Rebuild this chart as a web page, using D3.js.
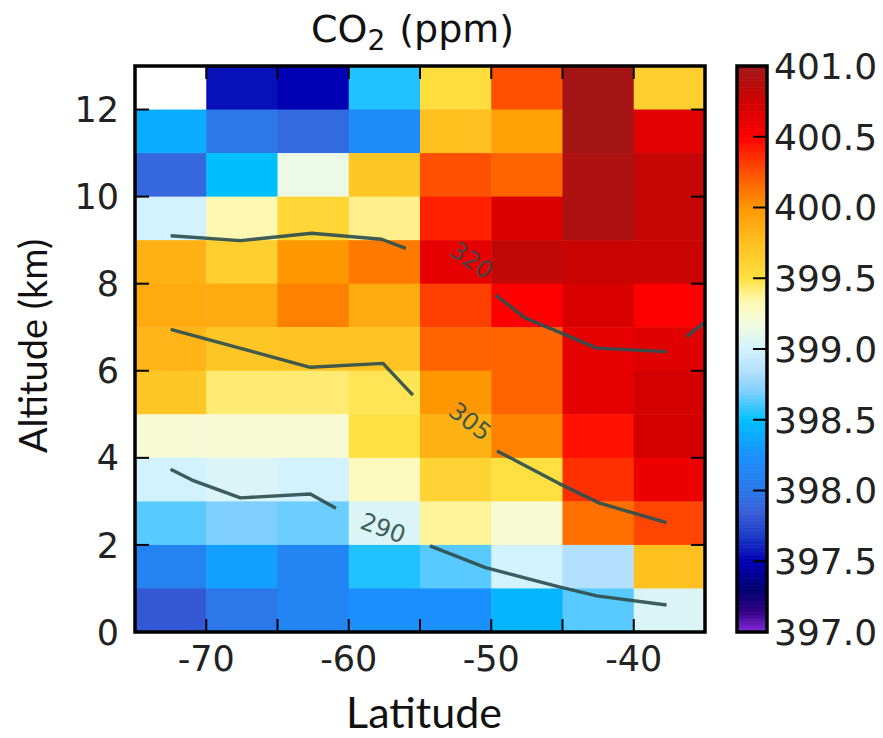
<!DOCTYPE html>
<html><head><meta charset="utf-8">
<script src="https://cdn.jsdelivr.net/npm/d3@7"></script>
<style>body{margin:0;background:#fff}svg{display:block}</style>
</head><body>
<svg id="c" width="883" height="738"></svg>
<script>
// ---------- data ----------
const latEdges = [-75, -70, -65, -60, -55, -50, -45, -40, -35];
const altEdges = [0,1,2,3,4,5,6,7,8,9,10,11,12,13];
// CO2 (ppm), rows from 12-13 km (top) down to 0-1 km, columns from -75 to -35
const co2Rows = [
  [null,   397.55, 397.5,  398.55, 399.52, 400.25, 400.97, 399.63],
  [398.4,  398.0,  397.92, 398.2,  399.75, 399.95, 400.97, 400.65],
  [397.9,  398.5,  399.15, 399.7,  400.25, 400.18, 400.93, 400.8 ],
  [399.0,  399.34, 399.58, 399.4,  400.4,  400.7,  400.93, 400.8 ],
  [399.85, 399.63, 400.0,  400.1,  400.63, 400.83, 400.78, 400.78],
  [399.89, 399.89, 400.08, 399.89, 400.3,  400.5,  400.7,  400.5 ],
  [399.82, 399.7,  399.73, 399.73, 400.18, 400.18, 400.63, 400.67],
  [399.7,  399.43, 399.43, 399.47, 400.0,  400.18, 400.63, 400.73],
  [399.22, 399.22, 399.23, 399.5,  399.84, 400.08, 400.45, 400.73],
  [399.0,  399.05, 399.0,  399.3,  399.6,  399.5,  400.35, 400.6 ],
  [398.64, 398.7,  398.67, 399.05, 399.38, 399.22, 400.14, 400.28],
  [398.1,  398.33, 398.13, 398.55, 398.64, 399.0,  398.85, 399.75],
  [397.82, 398.0,  398.13, 398.25, 398.25, 398.45, 398.64, 399.05]
];
const xTicks = [-70, -60, -50, -40];
const yTicks = [0, 2, 4, 6, 8, 10, 12];
const cbTicks = [397.0, 397.5, 398.0, 398.5, 399.0, 399.5, 400.0, 400.5, 401.0];
// colormap stops (value -> colour)
const cmapVals = [397.0, 397.15, 397.3, 397.5, 397.7, 397.85, 398.0, 398.25, 398.5, 398.7, 398.85, 399.0, 399.2, 399.35, 399.5, 399.75, 400.0, 400.25, 400.5, 400.75, 401.0];
const cmapCols = ["#8a2be2","#300080","#000070","#0000b4","#2040c8","#3a5ed8","#2c78e8","#1a90ff","#00bfff","#7fcfff","#b4e0ff","#d2f2ff","#f5fcdc","#fff8b0","#ffe040","#ffc020","#ff9800","#ff5000","#ff0000","#d00000","#a01818"];
// potential temperature contours (K): segments of [lat, alt]
const contours = [
  {level: 320, segs: [
    [[-72.5,9.10],[-67.6,8.99],[-62.6,9.16],[-57.7,9.02],[-56.0,8.81]],
    [[-49.7,7.74],[-47.6,7.21],[-45.4,6.91],[-42.6,6.52],[-37.7,6.44]],
    [[-36.3,6.78],[-35.0,7.12]]
  ], label: [-51.4, 8.53, 35]},
  {level: 305, segs: [
    [[-72.5,6.95],[-62.7,6.08],[-57.6,6.17],[-55.5,5.44]],
    [[-49.6,4.16],[-45.3,3.42],[-42.4,2.96],[-37.7,2.51]]
  ], label: [-51.5, 4.83, 38]},
  {level: 290, segs: [
    [[-72.5,3.74],[-71.0,3.49],[-67.6,3.08],[-62.7,3.17],[-60.9,2.84]],
    [[-54.3,1.98],[-50.4,1.48],[-45.3,1.04],[-42.6,0.83],[-37.7,0.62]]
  ], label: [-57.6, 2.38, 20]}
];

// ---------- layout ----------
const svg = d3.select("#c");
const L = 135, R = 705, T = 66, B = 632;
const x = d3.scaleLinear().domain([-75, -35]).range([L, R]);
const y = d3.scaleLinear().domain([0, 13]).range([B, T]);
const color = d3.scaleLinear().domain(cmapVals).range(cmapCols).interpolate(d3.interpolateRgb).clamp(true);
const tickFont = "DejaVu Sans, sans-serif";
const labFont = "Lato, 'Open Sans', sans-serif";

// cells
const cells = [];
co2Rows.forEach((row, ri) => {
  const a0 = altEdges[altEdges.length - 2 - ri], a1 = altEdges[altEdges.length - 1 - ri];
  row.forEach((v, ci) => cells.push({l0: latEdges[ci], l1: latEdges[ci+1], a0, a1, v}));
});
svg.append("g").selectAll("rect").data(cells).join("rect")
  .attr("x", d => x(d.l0)).attr("y", d => y(d.a1))
  .attr("width", d => x(d.l1) - x(d.l0) + 0.5).attr("height", d => y(d.a0) - y(d.a1) + 0.5)
  .attr("fill", d => d.v == null ? "#ffffff" : color(d.v));

// contours
const line = d3.line().x(d => x(d[0])).y(d => y(d[1]));
const cg = svg.append("g");
contours.forEach(c => {
  c.segs.forEach(s => cg.append("path").attr("d", line(s)).attr("fill", "none")
    .attr("stroke", "#2f4f4f").attr("stroke-width", 3.4).attr("stroke-linejoin", "round").attr("opacity", 0.92));
  cg.append("text").attr("transform", `translate(${x(c.label[0])},${y(c.label[1])}) rotate(${c.label[2]})`)
    .attr("text-anchor", "middle").attr("dominant-baseline", "central")
    .attr("font-family", tickFont).attr("font-size", 24).attr("fill", "#2f4f4f").attr("opacity", 0.9)
    .text(c.level);
});

// axes ticks (inside)
const tk = svg.append("g").attr("stroke", "#000").attr("stroke-width", 2);
d3.range(-70, -35, 5).forEach(v => {
  tk.append("line").attr("x1", x(v)).attr("x2", x(v)).attr("y1", B).attr("y2", B - 13);
  tk.append("line").attr("x1", x(v)).attr("x2", x(v)).attr("y1", T).attr("y2", T + 13);
});
yTicks.filter(v => v > 0).forEach(v => {
  tk.append("line").attr("x1", L).attr("x2", L + 14).attr("y1", y(v)).attr("y2", y(v));
  tk.append("line").attr("x1", R).attr("x2", R - 14).attr("y1", y(v)).attr("y2", y(v));
});
svg.append("rect").attr("x", L).attr("y", T).attr("width", R - L).attr("height", B - T)
  .attr("fill", "none").attr("stroke", "#000").attr("stroke-width", 3.5);

// tick labels
svg.append("g").selectAll("text").data(xTicks).join("text")
  .attr("x", d => x(d)).attr("y", 671).attr("text-anchor", "middle")
  .attr("font-family", tickFont).attr("font-size", 35).attr("fill", "#222").text(d => d);
svg.append("g").selectAll("text").data(yTicks).join("text")
  .attr("x", 119).attr("y", d => y(d)).attr("dy", "0.36em").attr("text-anchor", "end")
  .attr("font-family", tickFont).attr("font-size", 35).attr("fill", "#222").text(d => d);

// axis titles
svg.append("text").attr("x", x(-55) + 4).attr("y", 728).attr("text-anchor", "middle")
  .attr("font-family", labFont).attr("font-size", 43).attr("fill", "#111").text("Latitude");
svg.append("text").attr("transform", `translate(47,${(T + B) / 2 - 3}) rotate(-90)`).attr("text-anchor", "middle")
  .attr("font-family", labFont).attr("font-size", 38).attr("fill", "#111").text("Altitude (km)");
const title = svg.append("text").attr("x", 311).attr("y", 42)
  .attr("font-family", tickFont).attr("font-size", 38).attr("fill", "#111");
title.append("tspan").text("CO");
title.append("tspan").attr("font-size", 28).attr("dy", 8).text("2");
title.append("tspan").attr("dy", -8).attr("dx", 14).text("(ppm)");

// colour bar
const cbL = 737, cbW = 30;
const cy = d3.scaleLinear().domain([397, 401]).range([B, T]);
const steps = d3.range(0, 400).map(i => 397 + i * 0.01);
svg.append("g").selectAll("rect").data(steps).join("rect")
  .attr("x", cbL).attr("width", cbW)
  .attr("y", d => cy(d + 0.01)).attr("height", d => cy(d) - cy(d + 0.01) + 0.6)
  .attr("fill", d => color(d + 0.005));
const ct = svg.append("g").attr("stroke", "#000").attr("stroke-width", 2);
cbTicks.slice(1, -1).forEach(v => ct.append("line").attr("x1", cbL + cbW).attr("x2", cbL + cbW - 14).attr("y1", cy(v)).attr("y2", cy(v)));
svg.append("rect").attr("x", cbL).attr("y", T).attr("width", cbW).attr("height", B - T)
  .attr("fill", "none").attr("stroke", "#000").attr("stroke-width", 3.5);
svg.append("g").selectAll("text").data(cbTicks).join("text")
  .attr("x", 774).attr("y", d => cy(d)).attr("dy", "0.36em")
  .attr("font-family", tickFont).attr("font-size", 36).attr("fill", "#222").text(d => d.toFixed(1));
</script>
</body></html>
